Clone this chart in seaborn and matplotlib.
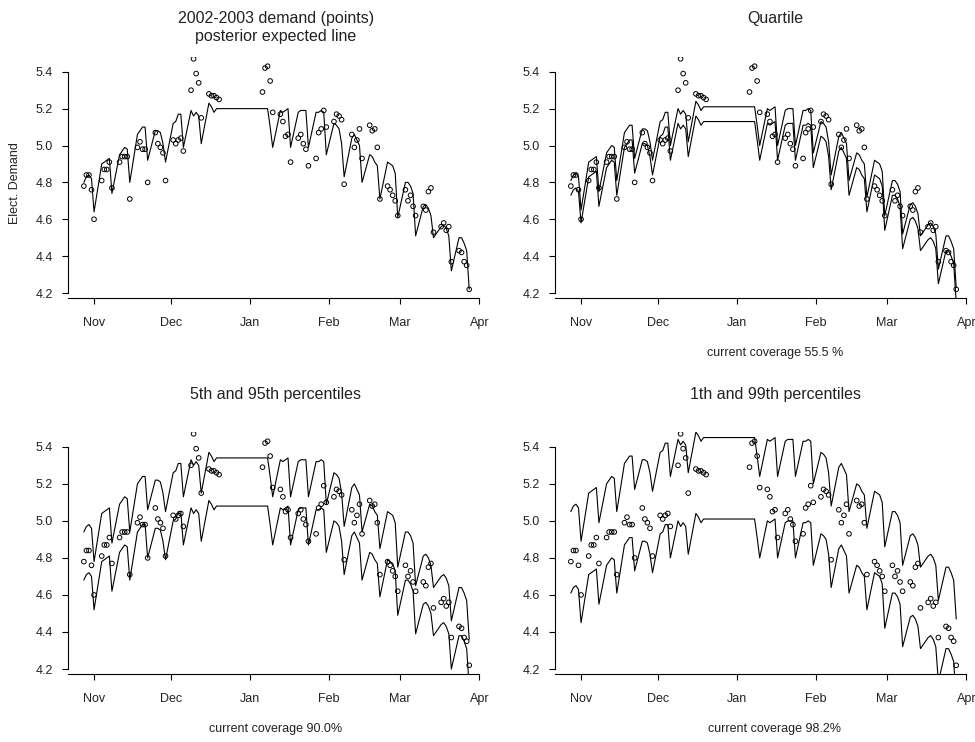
import numpy as np
import pandas as pd
import seaborn as sns
import matplotlib
matplotlib.use("Agg")
import matplotlib.pyplot as plt
import matplotlib.dates as mdates

# weekdays with demand records (Christmas break missing)
dates = pd.bdate_range("2002-10-28", "2002-12-20").append(pd.bdate_range("2003-01-06", "2003-03-28"))

# observed demand, one row per week (Mon..Fri)
demand = [
    4.78, 4.84, 4.84, 4.76, 4.60,
    4.81, 4.87, 4.87, 4.91, 4.77,
    4.91, 4.94, 4.94, 4.94, 4.71,
    4.99, 5.02, 4.98, 4.98, 4.80,
    5.07, 5.01, 4.99, 4.96, 4.81,
    5.03, 5.01, 5.03, 5.04, 4.97,
    5.30, 5.47, 5.39, 5.34, 5.15,
    5.28, 5.27, 5.27, 5.26, 5.25,
    5.29, 5.42, 5.43, 5.35, 5.18,
    5.17, 5.13, 5.05, 5.06, 4.91,
    5.04, 5.06, 5.01, 4.98, 4.89,
    4.93, 5.07, 5.09, 5.19, 5.10,
    5.13, 5.17, 5.16, 5.14, 4.79,
    5.06, 4.99, 5.03, 5.09, 4.93,
    5.11, 5.08, 5.09, 4.99, 4.71,
    4.78, 4.76, 4.73, 4.70, 4.62,
    4.76, 4.70, 4.73, 4.67, 4.62,
    4.67, 4.65, 4.75, 4.77, 4.53,
    4.56, 4.58, 4.54, 4.56, 4.37,
    4.43, 4.42, 4.37, 4.35, 4.22,
]

expected = [
    4.80, 4.83, 4.84, 4.82, 4.64,
    4.90, 4.91, 4.92, 4.93, 4.74,
    4.95, 4.97, 4.99, 4.98, 4.80,
    5.06, 5.08, 5.10, 5.10, 4.92,
    5.08, 5.08, 5.07, 5.01, 4.91,
    5.12, 5.13, 5.17, 5.17, 4.99,
    5.19, 5.16, 5.18, 5.16, 5.01,
    5.23, 5.21, 5.18, 5.20, 5.20,
    5.20, 5.20, 5.20, 5.10, 4.99,
    5.19, 5.18, 5.19, 5.20, 4.99,
    5.18, 5.19, 5.19, 5.19, 4.99,
    5.18, 5.18, 5.19, 5.18, 4.95,
    5.12, 5.11, 5.09, 5.01, 4.83,
    5.04, 5.06, 5.03, 5.00, 4.80,
    4.95, 4.94, 4.91, 4.89, 4.71,
    4.91, 4.90, 4.89, 4.85, 4.61,
    4.80, 4.80, 4.78, 4.74, 4.51,
    4.67, 4.68, 4.66, 4.62, 4.50,
    4.56, 4.57, 4.55, 4.51, 4.32,
    4.50, 4.50, 4.47, 4.43, 4.22,
]

q75 = [
    4.81, 4.84, 4.85, 4.83, 4.65,
    4.91, 4.92, 4.93, 4.94, 4.75,
    4.96, 4.98, 5.00, 4.99, 4.81,
    5.07, 5.09, 5.11, 5.11, 4.93,
    5.09, 5.09, 5.08, 5.02, 4.92,
    5.13, 5.14, 5.18, 5.18, 5.00,
    5.20, 5.17, 5.19, 5.17, 5.02,
    5.24, 5.22, 5.19, 5.21, 5.21,
    5.21, 5.21, 5.21, 5.11, 5.00,
    5.20, 5.19, 5.20, 5.21, 5.00,
    5.19, 5.20, 5.20, 5.20, 5.00,
    5.19, 5.19, 5.20, 5.19, 4.96,
    5.13, 5.12, 5.10, 5.02, 4.84,
    5.05, 5.07, 5.04, 5.01, 4.81,
    4.96, 4.95, 4.92, 4.90, 4.72,
    4.92, 4.91, 4.90, 4.86, 4.62,
    4.81, 4.81, 4.79, 4.75, 4.52,
    4.68, 4.69, 4.67, 4.63, 4.51,
    4.57, 4.58, 4.56, 4.52, 4.33,
    4.51, 4.51, 4.48, 4.44, 4.23,
]

q25 = [
    4.73, 4.76, 4.77, 4.75, 4.58,
    4.83, 4.84, 4.85, 4.86, 4.67,
    4.88, 4.90, 4.92, 4.91, 4.73,
    4.99, 5.01, 5.03, 5.03, 4.85,
    5.01, 5.01, 5.00, 4.94, 4.84,
    5.05, 5.06, 5.10, 5.10, 4.92,
    5.12, 5.09, 5.11, 5.09, 4.94,
    5.16, 5.14, 5.11, 5.13, 5.13,
    5.13, 5.13, 5.13, 5.03, 4.92,
    5.12, 5.11, 5.12, 5.13, 4.92,
    5.11, 5.12, 5.12, 5.12, 4.92,
    5.11, 5.11, 5.12, 5.11, 4.88,
    5.05, 5.04, 5.02, 4.94, 4.76,
    4.97, 4.99, 4.96, 4.93, 4.73,
    4.88, 4.87, 4.84, 4.82, 4.64,
    4.84, 4.83, 4.82, 4.78, 4.54,
    4.73, 4.73, 4.71, 4.67, 4.44,
    4.60, 4.61, 4.59, 4.55, 4.43,
    4.49, 4.50, 4.48, 4.44, 4.25,
    4.43, 4.43, 4.40, 4.36, 4.15,
]

p95 = [
    4.94, 4.97, 4.98, 4.96, 4.78,
    5.04, 5.05, 5.06, 5.07, 4.88,
    5.09, 5.11, 5.13, 5.12, 4.94,
    5.20, 5.22, 5.24, 5.24, 5.06,
    5.22, 5.22, 5.21, 5.15, 5.05,
    5.26, 5.27, 5.31, 5.31, 5.13,
    5.33, 5.30, 5.32, 5.30, 5.15,
    5.37, 5.35, 5.32, 5.34, 5.34,
    5.34, 5.34, 5.34, 5.24, 5.13,
    5.33, 5.32, 5.33, 5.34, 5.13,
    5.32, 5.33, 5.33, 5.33, 5.13,
    5.32, 5.32, 5.33, 5.32, 5.09,
    5.26, 5.25, 5.23, 5.15, 4.97,
    5.18, 5.20, 5.17, 5.14, 4.94,
    5.09, 5.08, 5.05, 5.03, 4.85,
    5.05, 5.04, 5.03, 4.99, 4.75,
    4.94, 4.94, 4.92, 4.88, 4.65,
    4.81, 4.82, 4.80, 4.76, 4.64,
    4.70, 4.71, 4.69, 4.65, 4.46,
    4.64, 4.64, 4.61, 4.57, 4.36,
]

p05 = [
    4.68, 4.71, 4.72, 4.70, 4.52,
    4.78, 4.79, 4.80, 4.81, 4.62,
    4.83, 4.85, 4.87, 4.86, 4.68,
    4.94, 4.96, 4.98, 4.98, 4.80,
    4.96, 4.96, 4.95, 4.89, 4.79,
    5.00, 5.01, 5.05, 5.05, 4.87,
    5.07, 5.04, 5.06, 5.04, 4.89,
    5.11, 5.09, 5.06, 5.08, 5.08,
    5.08, 5.08, 5.08, 4.98, 4.87,
    5.07, 5.06, 5.07, 5.08, 4.87,
    5.06, 5.07, 5.07, 5.07, 4.87,
    5.06, 5.06, 5.07, 5.06, 4.83,
    5.00, 4.99, 4.97, 4.89, 4.71,
    4.92, 4.94, 4.91, 4.88, 4.68,
    4.83, 4.82, 4.79, 4.77, 4.59,
    4.79, 4.78, 4.77, 4.73, 4.49,
    4.68, 4.68, 4.66, 4.62, 4.39,
    4.55, 4.56, 4.54, 4.50, 4.38,
    4.44, 4.45, 4.43, 4.39, 4.20,
    4.38, 4.38, 4.35, 4.31, 4.10,
]

p99 = [
    5.05, 5.08, 5.09, 5.07, 4.89,
    5.15, 5.16, 5.17, 5.18, 4.99,
    5.20, 5.22, 5.24, 5.23, 5.05,
    5.31, 5.33, 5.35, 5.35, 5.17,
    5.33, 5.33, 5.32, 5.26, 5.16,
    5.37, 5.38, 5.42, 5.42, 5.24,
    5.44, 5.41, 5.43, 5.41, 5.26,
    5.48, 5.46, 5.43, 5.45, 5.45,
    5.45, 5.45, 5.45, 5.35, 5.24,
    5.44, 5.43, 5.44, 5.45, 5.24,
    5.43, 5.44, 5.44, 5.44, 5.24,
    5.43, 5.43, 5.44, 5.43, 5.20,
    5.37, 5.36, 5.34, 5.26, 5.08,
    5.29, 5.31, 5.28, 5.25, 5.05,
    5.20, 5.19, 5.16, 5.14, 4.96,
    5.16, 5.15, 5.14, 5.10, 4.86,
    5.05, 5.05, 5.03, 4.99, 4.76,
    4.92, 4.93, 4.91, 4.87, 4.75,
    4.81, 4.82, 4.80, 4.76, 4.57,
    4.75, 4.75, 4.72, 4.68, 4.47,
]

p01 = [
    4.61, 4.64, 4.65, 4.63, 4.45,
    4.71, 4.72, 4.73, 4.74, 4.55,
    4.76, 4.78, 4.80, 4.79, 4.61,
    4.87, 4.89, 4.91, 4.91, 4.73,
    4.89, 4.89, 4.88, 4.82, 4.72,
    4.93, 4.94, 4.98, 4.98, 4.80,
    5.00, 4.97, 4.99, 4.97, 4.82,
    5.04, 5.02, 4.99, 5.01, 5.01,
    5.01, 5.01, 5.01, 4.91, 4.80,
    5.00, 4.99, 5.00, 5.01, 4.80,
    4.99, 5.00, 5.00, 5.00, 4.80,
    4.99, 4.99, 5.00, 4.99, 4.76,
    4.93, 4.92, 4.90, 4.82, 4.64,
    4.85, 4.87, 4.84, 4.81, 4.61,
    4.76, 4.75, 4.72, 4.70, 4.52,
    4.72, 4.71, 4.70, 4.66, 4.42,
    4.61, 4.61, 4.59, 4.55, 4.32,
    4.48, 4.49, 4.47, 4.43, 4.31,
    4.37, 4.38, 4.36, 4.32, 4.13,
    4.31, 4.31, 4.28, 4.24, 4.03,
]

titles = ["2002-2003 demand (points)\nposterior expected line", "Quartile",
          "5th and 95th percentiles", "1th and 99th percentiles"]
notes = [None, "current coverage 55.5 %", "current coverage 90.0%", "current coverage 98.2%"]
yticks = [4.2, 4.4, 4.6, 4.8, 5.0, 5.2, 5.4]

sns.set_theme(style="ticks")
plt.rcParams["font.family"] = ["Liberation Sans", "DejaVu Sans"]

W, H = 975, 742
fig = plt.figure(figsize=(W / 100, H / 100), dpi=100)

# panel boxes in pixels: left, top, width, height
boxes = [(68, 57, 416, 241), (555, 57, 416, 241), (68, 432, 416, 242), (555, 432, 416, 242)]
title_x = [276, 775, 276, 775]
line_sets = [[expected], [q75, q25], [p95, p05], [p99, p01]]

xmin = pd.Timestamp("2002-10-21 19:00")
xmax = pd.Timestamp("2003-04-02 19:00")

for i, (l, t, w, h) in enumerate(boxes):
    ax = fig.add_axes([l / W, 1 - (t + h) / H, w / W, h / H])
    for ln in line_sets[i]:
        sns.lineplot(x=dates, y=ln, ax=ax, color="black", lw=0.8,
                     estimator=None, sort=False)
    sns.scatterplot(x=dates, y=demand, ax=ax, marker="o", s=11,
                    facecolor="none", edgecolor="black", linewidth=0.7, zorder=3)

    ax.set_xlim(xmin, xmax)
    ax.set_ylim(4.173, 5.48)
    ax.set_yticks(yticks)
    ax.set_yticklabels([f"{v:.1f}" for v in yticks])
    ax.xaxis.set_major_locator(mdates.MonthLocator())
    ax.xaxis.set_major_formatter(mdates.DateFormatter("%b"))
    ax.set_xlabel("")
    ax.set_ylabel("")
    ax.tick_params(axis="both", direction="out", length=4, width=0.8, color="black",
                   labelsize=9, labelcolor="#222222")
    ax.tick_params(axis="x", pad=10)
    ax.tick_params(axis="y", pad=7)
    for s in ["top", "right"]:
        ax.spines[s].set_visible(False)
    for s in ["left", "bottom"]:
        ax.spines[s].set_linewidth(0.8)
        ax.spines[s].set_color("black")
    ax.spines["left"].set_bounds(4.2, 5.4)
    ax.spines["bottom"].set_bounds(mdates.date2num(xmin), mdates.date2num(pd.Timestamp("2003-04-01")))

    # title centred above the panel
    fig.text(title_x[i] / W, 1 - (t - 30 if i == 0 else t - 38) / H, titles[i],
             ha="center", va="center", fontsize=11.5, color="#222222", linespacing=1.25)
    if notes[i]:
        fig.text(title_x[i] / W, 1 - (t + h + 55) / H, notes[i],
                 ha="center", va="center", fontsize=9, color="#222222")

fig.text(15 / W, 1 - 183 / H, "Elect. Demand", rotation=90, ha="center", va="center",
         fontsize=9, color="#222222")

fig.savefig("out.png", dpi=100)
